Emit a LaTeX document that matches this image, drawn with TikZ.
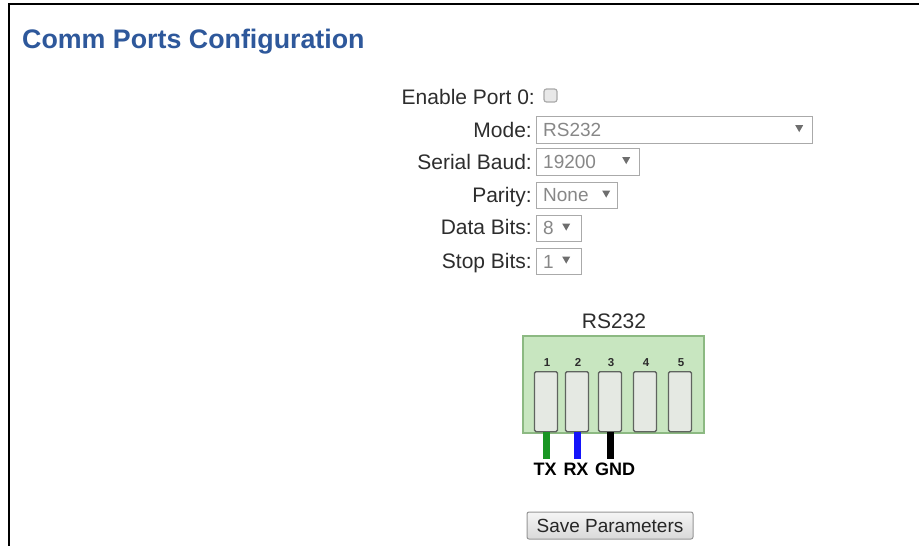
\documentclass[tikz,border=0pt]{standalone}
\usepackage{fontspec}
\setmainfont{Liberation Sans}
\usetikzlibrary{calc}
\definecolor{titleblue}{RGB}{46,88,155}
\definecolor{labgray}{RGB}{45,45,45}
\definecolor{valgray}{RGB}{135,135,135}
\definecolor{ddborder}{RGB}{170,170,170}
\definecolor{arrgray}{RGB}{110,110,110}
\definecolor{blockfill}{RGB}{200,230,192}
\definecolor{blockline}{RGB}{140,185,130}
\definecolor{slotfill}{RGB}{229,233,227}
\definecolor{slotline}{RGB}{95,100,95}
\definecolor{wiregreen}{RGB}{25,150,35}
\definecolor{wireblue}{RGB}{20,20,250}
\definecolor{btnline}{RGB}{150,150,150}
\tikzset{
  lab/.style={anchor=base east, inner sep=0pt, font=\fontsize{21}{24}\selectfont, text=labgray},
  val/.style={anchor=base west, inner sep=0pt, font=\fontsize{19}{22}\selectfont, text=valgray},
  dd/.style={draw=ddborder, line width=1.2pt, fill=white, anchor=north west, inner sep=0pt, minimum height=27pt},
  ddarrow/.style={fill=arrgray},
  slotbox/.style={draw=slotline, line width=1.3pt, fill=slotfill, rounded corners=1.5pt, anchor=north, inner sep=0pt, minimum width=23pt, minimum height=60pt},
  pinnum/.style={font=\bfseries\fontsize{11.5}{13}\selectfont, text=labgray, inner sep=0pt, anchor=base},
  wire/.style={line width=7pt},
  wirelab/.style={font=\bfseries\fontsize{18}{20}\selectfont, inner sep=0pt, anchor=base},
}
\begin{document}
\begin{tikzpicture}[x=1pt,y=-1pt]
\useasboundingbox (0,0) rectangle (919,546);
\fill[white] (0,0) rectangle (919,546);
% frame
\draw[line width=2.5pt] (9,546) -- (9,4) -- (919,4);
% title
\node[anchor=base west, inner sep=0pt, font=\bfseries\fontsize{26.8}{30}\selectfont, text=titleblue] (title) at (22,48) {Comm Ports Configuration};

% Enable port
\node[lab] (lenable) at (535,104) {Enable Port 0:};
\node[draw=ddborder, line width=1.2pt, fill=black!9, rounded corners=2.5pt, minimum width=13pt, minimum height=13pt, inner sep=0pt] (cbox) at (550.5,95.5) {};

% Mode
\node[lab] (lmode) at (532,137) {Mode:};
\node[dd, minimum width=276pt] (mode) at (536,116) {};
\node[val] (vmode) at (543,136) {RS232};
\fill[ddarrow] ($(mode.east)+(-18,-5)$) -- ++(8,0) -- ++(-4,7) -- cycle;

% Serial Baud
\node[lab] (lbaud) at (532,169) {Serial Baud:};
\node[dd, minimum width=103pt] (baud) at (536,148) {};
\node[val] (vbaud) at (543,168) {19200};
\fill[ddarrow] ($(baud.east)+(-18,-5)$) -- ++(8,0) -- ++(-4,7) -- cycle;

% Parity
\node[lab] (lpar) at (532,202) {Parity:};
\node[dd, minimum width=81pt, minimum height=26pt] (par) at (536,182) {};
\node[val] (vpar) at (543,201) {None};
\fill[ddarrow] ($(par.east)+(-16,-5)$) -- ++(8,0) -- ++(-4,7) -- cycle;

% Data bits
\node[lab] (ldata) at (532,234) {Data Bits:};
\node[dd, minimum width=45pt, minimum height=26pt] (data) at (536,215) {};
\node[val] (vdata) at (543,234) {8};
\fill[ddarrow] ($(data.east)+(-20,-5)$) -- ++(8,0) -- ++(-4,7) -- cycle;

% Stop bits
\node[lab] (lstop) at (532,268) {Stop Bits:};
\node[dd, minimum width=45pt, minimum height=26pt] (stop) at (536,248) {};
\node[val] (vstop) at (543,268) {1};
\fill[ddarrow] ($(stop.east)+(-20,-5)$) -- ++(8,0) -- ++(-4,7) -- cycle;

% Connector
\node[anchor=base, inner sep=0pt, font=\fontsize{21}{24}\selectfont, text=labgray] (rslab) at (614,328) {RS232};
\node[draw=blockline, line width=1.5pt, fill=blockfill, anchor=north west, inner sep=0pt, minimum width=181pt, minimum height=97pt] (block) at (522,335) {};
\foreach \i/\x in {1/546,2/577,3/610,4/645,5/680}{
  \node[slotbox] (s\i) at (\x,371) {};
  \node[pinnum] (n\i) at (\x+1,366) {\i};
}
% wires
\coordinate (w1) at ($(s1.south)+(0,27)$);
\coordinate (w2) at ($(s2.south)+(0,27)$);
\coordinate (w3) at ($(s3.south)+(0,27)$);
\draw[wire, wiregreen] (s1.south) -- (w1);
\draw[wire, wireblue] (s2.south) -- (w2);
\draw[wire, black] (s3.south) -- (w3);
\node[wirelab] (tx) at (545,475) {TX};
\node[wirelab] (rx) at (576,475) {RX};
\node[wirelab] (gnd) at (615,475) {GND};

% Save button
\node[draw=btnline, line width=1pt, rounded corners=2pt, top color=white!96!black, bottom color=white!85!black, minimum width=166pt, minimum height=27pt, inner sep=0pt, font=\fontsize{19}{22}\selectfont, text=black!85] (save) at (610,525.5) {Save Parameters};
\end{tikzpicture}
\end{document}
